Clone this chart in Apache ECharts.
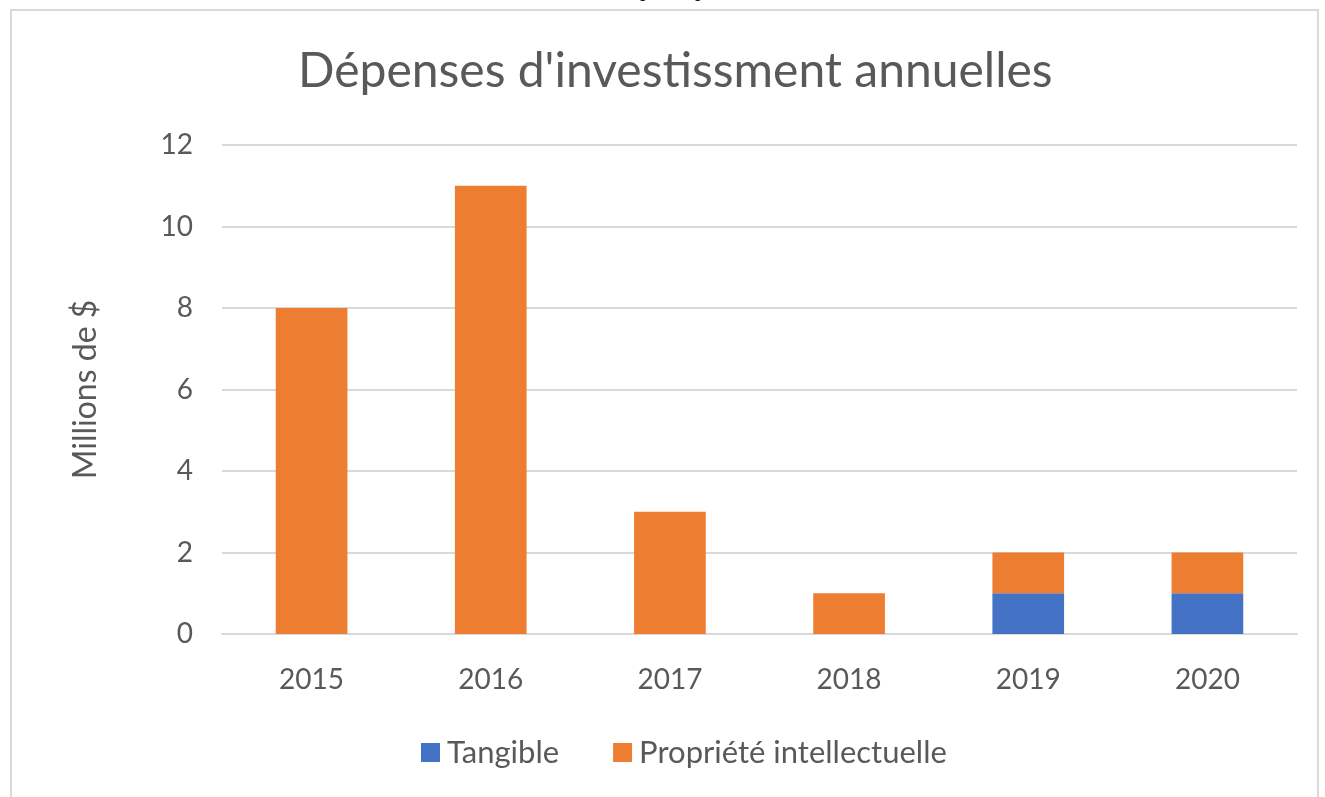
<!DOCTYPE html>
<html>
<head>
<meta charset="utf-8">
<script src="https://cdn.jsdelivr.net/npm/echarts@6/dist/echarts.min.js"></script>
<style>
  html, body { margin: 0; padding: 0; background: #fff; }
  #main { width: 1325px; height: 797px; }
</style>
</head>
<body>
<div id="main"></div>
<script>
// données
const years = ['2015', '2016', '2017', '2018', '2019', '2020'];
const tangible = [0, 0, 0, 0, 1, 1];
const propIntel = [8, 11, 3, 1, 1, 1];
const seriesNames = ['Tangible', 'Propriété intellectuelle'];

const FONT = 'Lato';
const GREY = '#595959';

const chart = echarts.init(document.getElementById('main'));

const option = {
  backgroundColor: '#fff',
  animation: false,
  textStyle: { fontFamily: FONT },
  title: {
    text: "Dépenses d'investissment annuelles",
    left: 293,
    top: 43,
    textStyle: { fontFamily: FONT, fontSize: 48, fontWeight: 'normal', color: GREY }
  },
  graphic: [
    {
      type: 'rect',
      shape: { x: 11, y: 10, width: 1307, height: 800 },
      style: { fill: 'none', stroke: '#d9d9d9', lineWidth: 2 },
      silent: true
    },
    // texte de page coupé au-dessus du cadre
    {
      type: 'text',
      x: 640, y: 1,
      style: { text: 'p', font: '22px "Liberation Serif"', fill: '#000', verticalAlign: 'bottom' },
      silent: true
    },
    {
      type: 'text',
      x: 695, y: 1,
      style: { text: 'p', font: '22px "Liberation Serif"', fill: '#000', verticalAlign: 'bottom' },
      silent: true
    }
  ],
  legend: {
    top: 732,
    left: 416,
    itemWidth: 19,
    itemHeight: 19,
    itemGap: 54,
    icon: 'rect',
    textStyle: { fontFamily: FONT, fontSize: 31, color: GREY, padding: [0, 0, 0, 2] },
    data: seriesNames
  },
  grid: { left: 222, right: 28, top: 145, bottom: 163 },
  xAxis: {
    type: 'category',
    data: years,
    axisLine: { lineStyle: { color: '#d9d9d9', width: 2 } },
    axisTick: { show: false },
    axisLabel: { fontSize: 28, color: GREY, margin: 32, fontFamily: FONT }
  },
  yAxis: {
    type: 'value',
    min: 0,
    max: 12,
    interval: 2,
    name: 'Millions de $',
    nameLocation: 'middle',
    nameGap: 120,
    nameTextStyle: { fontSize: 32, color: GREY, fontFamily: FONT },
    axisLine: { show: false },
    axisTick: { show: false },
    axisLabel: { fontSize: 28, color: GREY, margin: 29, fontFamily: FONT },
    splitLine: { lineStyle: { color: '#d9d9d9', width: 2 } }
  },
  series: [
    {
      name: seriesNames[0],
      type: 'bar',
      stack: 'total',
      barWidth: '40%',
      itemStyle: { color: '#4472c4' },
      data: tangible
    },
    {
      name: seriesNames[1],
      type: 'bar',
      stack: 'total',
      barWidth: '40%',
      itemStyle: { color: '#ed7d31' },
      data: propIntel
    }
  ]
};

chart.setOption(option);
</script>
</body>
</html>
